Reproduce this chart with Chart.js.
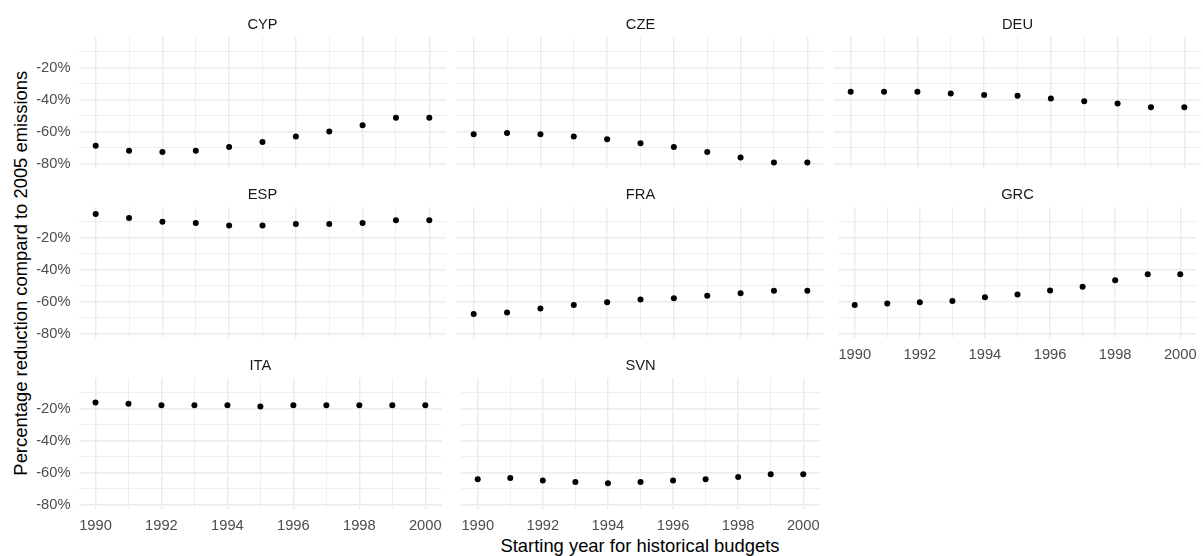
<!DOCTYPE html>
<html><head><meta charset="utf-8">
<script src="https://cdn.jsdelivr.net/npm/chart.js@4/dist/chart.umd.min.js"></script>
<style>
html,body{margin:0;padding:0;background:#fff;overflow:hidden;width:1203px;height:556px;}
canvas{position:absolute;}
.atitle{position:absolute;font-family:"Liberation Sans",Arial,sans-serif;font-size:18.4px;line-height:18.4px;color:#000;white-space:nowrap;text-align:center;}
</style></head><body>
<div class="atitle" style="left:340px;width:600px;top:537px;">Starting year for historical budgets</div>
<div class="atitle" style="left:-229px;width:500px;top:264px;transform:rotate(-90deg);">Percentage reduction compard to 2005 emissions</div>
<script>
// ---- data ----
const years = [1990,1991,1992,1993,1994,1995,1996,1997,1998,1999,2000];
const countries = ['CYP','CZE','DEU','ESP','FRA','GRC','ITA','SVN'];
const CYP = [-68.6,-71.7,-72.5,-71.7,-69.4,-66.3,-62.9,-59.8,-55.9,-51.1,-51.1];
const CZE = [-61.5,-60.6,-61.5,-62.9,-64.6,-67.1,-69.4,-72.5,-75.9,-79.0,-79.0];
const DEU = [-35.0,-35.0,-35.0,-36.1,-36.9,-37.5,-39.2,-40.9,-42.3,-44.6,-44.6];
const ESP = [-5.2,-7.7,-10.0,-10.8,-12.3,-12.3,-11.4,-11.4,-10.8,-9.1,-9.1];
const FRA = [-67.5,-66.6,-64.1,-61.9,-60.2,-58.5,-57.7,-56.2,-54.6,-53.1,-53.1];
const GRC = [-61.9,-61.0,-60.2,-59.4,-57.1,-55.4,-52.9,-50.6,-46.4,-42.7,-42.7];
const ITA = [-16.0,-16.9,-17.7,-17.7,-17.7,-18.5,-17.7,-17.7,-17.7,-17.7,-17.7];
const SVN = [-63.9,-63.1,-64.7,-65.6,-66.4,-65.6,-64.7,-63.9,-62.5,-60.8,-60.8];
const seriesValues = [CYP,CZE,DEU,ESP,FRA,GRC,ITA,SVN];
const yTicks = [-80,-70,-60,-50,-40,-30,-20,-10];
const yMajor = [-80,-60,-40,-20];
const xMajor = [1990,1992,1994,1996,1998,2000];

// ---- layout ----
const colLeft = [79, 457, 834];
const rowTop = [37, 207, 378];
const PW = 367, PH = 131, TITLE_H = 24, YAXIS_W = 79, XAXIS_H = 30;
const FONT = '"Liberation Sans", Arial, sans-serif';
Chart.defaults.font.family = FONT;

countries.forEach((name, i) => {
  const r = Math.floor(i / 3), c = i % 3;
  const hasY = c === 0;
  const hasX = r === 2 || (r === 1 && c === 2);
  const padL = hasY ? 0 : 4, padR = 4;
  const yw = hasY ? YAXIS_W : 0;
  const xh = hasX ? XAXIS_H : 0;
  const padB = hasX ? 2 : 22;
  const cv = document.createElement('canvas');
  const W = padL + yw + PW + padR, H = TITLE_H + PH + xh + padB;
  cv.width = W; cv.height = H;
  cv.style.left = (colLeft[c] - yw - padL) + 'px';
  cv.style.top = (rowTop[r] - TITLE_H) + 'px';
  cv.style.width = W + 'px'; cv.style.height = H + 'px';
  document.body.appendChild(cv);
  const vals = seriesValues[i];
  new Chart(cv, {
    type: 'scatter',
    data: { datasets: [{ data: years.map((x, k) => ({x, y: vals[k]})),
      pointRadius: 3, pointHoverRadius: 3, pointBackgroundColor: '#000', pointBorderWidth: 0, showLine: false }] },
    options: {
      responsive: false, animation: false, devicePixelRatio: 1,
      layout: { padding: { left: padL, right: padR, top: 0, bottom: padB } },
      plugins: {
        legend: { display: false }, tooltip: { enabled: false },
        title: { display: true, text: name, fullSize: false, color: '#1A1A1A',
          font: { size: 14.7, weight: 'normal', family: FONT, lineHeight: 1.2 },
          padding: { top: 3.2, bottom: 3.2 } }
      },
      scales: {
        x: {
          type: 'linear', min: 1989.5, max: 2000.5,
          afterBuildTicks: s => { s.ticks = years.map(v => ({value: v})); },
          afterFit: s => { s.height = xh; },
          border: { display: false },
          grid: { color: '#EBEBEB', drawTicks: false,
            lineWidth: ctx => (ctx.tick && xMajor.includes(ctx.tick.value)) ? 1.4 : 0.8 },
          ticks: { display: hasX, autoSkip: false, maxRotation: 0, padding: 8,
            color: '#4D4D4D', font: { size: 14.7, family: FONT },
            callback: v => xMajor.includes(v) ? String(v) : '' }
        },
        y: {
          type: 'linear', min: -82.5, max: -0.8,
          afterBuildTicks: s => { s.ticks = yTicks.map(v => ({value: v})); },
          afterFit: s => { s.width = yw; },
          border: { display: false },
          grid: { color: '#EBEBEB', drawTicks: false,
            lineWidth: ctx => (ctx.tick && yMajor.includes(ctx.tick.value)) ? 1.4 : 0.8 },
          ticks: { display: hasY, autoSkip: false, padding: 8.5,
            color: '#4D4D4D', font: { size: 14.7, family: FONT },
            callback: v => yMajor.includes(v) ? v + '%' : '' }
        }
      }
    }
  });
});
</script>
</body></html>
